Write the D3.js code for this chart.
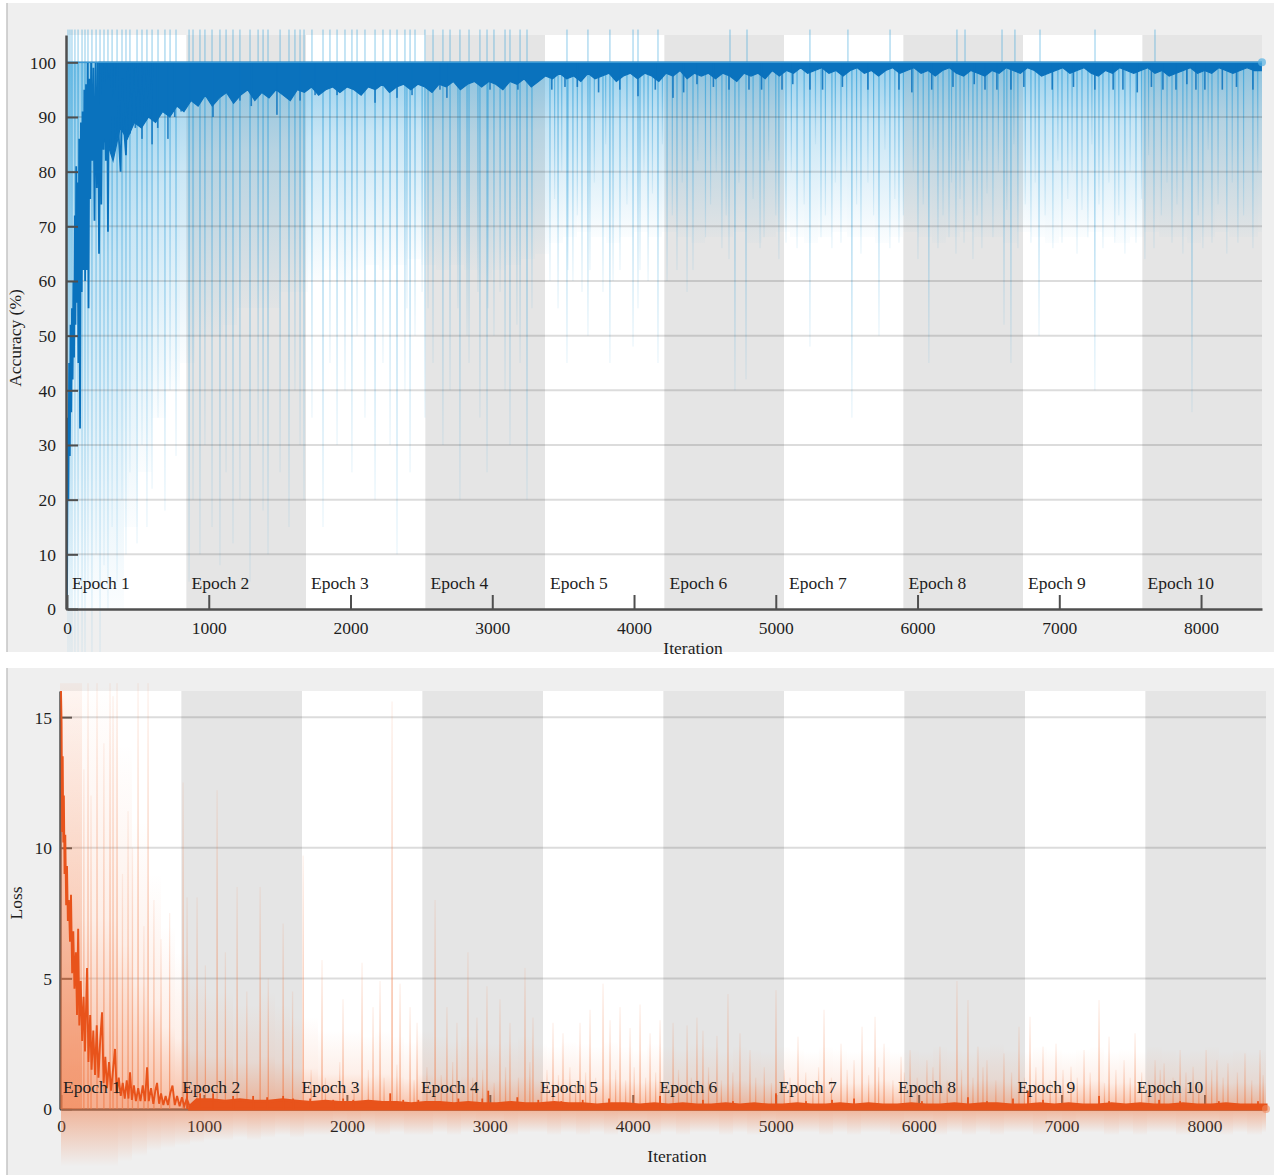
<!DOCTYPE html>
<html>
<head>
<meta charset="utf-8">
<title>Training progress</title>
<script src="https://cdnjs.cloudflare.com/ajax/libs/d3/7.8.5/d3.min.js"></script>
<style>
body { margin: 0; background: #fff; }
svg text { font-family: "Liberation Serif", "DejaVu Serif", serif; fill: #1e1e1e; }
</style>
</head>
<body>
<svg id="chart" width="1274" height="1175"></svg>
<script>
// ---- data ----
var epochNames = ["Epoch 1","Epoch 2","Epoch 3","Epoch 4","Epoch 5","Epoch 6","Epoch 7","Epoch 8","Epoch 9","Epoch 10"];
var itersPerEpoch = 843;
var lastIter = 8430;
var iterTicks = [0,1000,2000,3000,4000,5000,6000,7000,8000];
var accTicks = [0,10,20,30,40,50,60,70,80,90,100];
var lossTicks = [0,5,10,15];
var binStart = d3.range(0, 8401, 100);    // 85 bins of 100 iterations
var fineStart = d3.range(0, 8401, 50);    // 169 bins of 50 iterations

// accuracy: lower edge of the dense dark band, per 50 iterations
var accCoreLow = [
  null, null, null, null, 84, 86, 82, 88, 86, 89,
  88, 90, 89, 91, 90, 92, 91, 93, 92, 94,
  92, 93.5, 94.5, 92.5, 94, 95, 93, 94.5, 93.5, 95,
  94, 93, 95, 94.5, 95.5, 94, 95, 95.5, 94.5, 95.5,
  95, 94, 95.5, 95, 96, 94.5, 95.5, 96, 95, 96,
  95.5, 94.5, 96, 95.5, 96.5, 95, 96, 96.5, 95.5, 96.5,
  96, 95, 96.5, 96, 97, 95.5, 96.5, 97.5, 97, 98,
  97, 97.5, 96.5, 98, 97, 97.5, 98, 96.5, 97.5, 98,
  97, 98, 97.5, 96.5, 98, 97.5, 98.5, 97, 98, 97.5,
  98, 97, 98, 97.5, 96.5, 98, 97.5, 98, 97, 98.5,
  97.5, 98.5, 98, 99, 98, 98.5, 99, 98, 98.5, 97.5,
  98.5, 99, 98, 98.5, 97.5, 98.5, 99, 98, 98.5, 99,
  98, 98.5, 97.5, 98.5, 99, 98, 97.5, 98.5, 98, 97.5,
  98.5, 98, 99, 98.5, 98, 99, 98.5, 97.5, 98, 98.5,
  99, 98, 98.5, 99, 98, 97.5, 98.5, 98, 99, 98.5,
  98, 98.5, 99, 98, 98.5, 97.5, 98, 98.5, 99, 98,
  98.5, 98, 99, 98.5, 98, 98.5, 99, 98.5, 98.5];
// accuracy: where the pale blue haze fades out, per 100 iterations
var accFadeLow = [
  0, 0, 0, 0, 15, 25, 35, 40, 45, 50,
  50, 52, 55, 55, 55, 58, 58, 60, 62, 60,
  62, 63, 62, 63, 64, 63, 62, 63, 62, 60,
  62, 63, 64, 65, 67, 68, 69, 68, 67, 68,
  69, 68, 69, 68, 67, 68, 68, 69, 67, 68,
  69, 68, 67, 68, 69, 68, 68, 67, 68, 69,
  68, 67, 68, 69, 68, 68, 67, 69, 68, 67,
  68, 68, 69, 68, 67, 68, 69, 68, 68, 67,
  68, 69, 68, 68, 69];
// accuracy: the first iterations [iteration, %]
var accEarly = [[0,0],[5,35],[10,20],[15,45],[20,28],[25,52],[30,36],[35,55],[40,42],[45,60],[50,46],[55,72],
  [60,52],[65,81],[70,56],[75,78],[80,45],[86,86],[92,33],[98,89],[104,58],[110,91],[116,62],[122,95],[128,60],
  [134,96],[140,62],[146,100],[152,55],[158,97],[164,75],[170,100],[178,82],[186,99],[194,71],[202,100],[210,77],
  [218,100],[226,65],[234,98],[242,74],[250,100],[258,84],[266,99],[274,82],[282,100],[289,69],[296,98],[304,86],
  [314,100],[324,83],[334,99],[344,87],[354,100],[366,86],[378,80],[390,97],[402,88],[416,83],[430,99],[444,87],
  [458,100],[472,90],[486,99],[500,89],[515,100],[530,90],[545,99],[560,91],[575,100],[590,90],[605,100]];
// accuracy: darker dips below the band [iteration, %]
var accDips = [[335,86],[482,88],[529,86],[600,85],[640,88],[712,86],[760,90],[805,91],[868,93],[1030,90],
  [1220,93],[1300,92],[1481,90.4],[1644,93],[1750,94],[1905,94],[2173,92.6],[2328,93.5],[2434,94],[2631,95],
  [2680,93.5],[2984,95],[3181,95],[3420,95],[3513,95.5],[3600,95.5],[3750,94.5],[3900,95],[4028,93.8],
  [4150,95],[4275,93.5],[4350,94.5],[4444,96],[4560,95.5],[4670,95],[4811,95],[4900,95],[5044,95],[5120,96],
  [5241,95],[5330,95],[5470,95.5],[5650,95],[5869,95],[5960,94.5],[6100,95],[6250,95.5],[6400,96],[6476,95],
  [6560,95],[6659,95],[6750,95.5],[6950,95],[7100,95.5],[7251,95],[7380,95],[7449,95],[7550,94.5],[7650,95.5],
  [7731,95],[7823,95],[7900,96],[7964,95],[8027,95],[8150,95],[8250,95.5],[8366,95]];
// accuracy: pale single-iteration drops [iteration, %]
var accSpikes = [[7,-8],[21,-8],[35,-8],[56,-8],[78,-8],[106,-8],[127,-8],[148,5],[176,-8],[205,10],[233,-8],
  [261,8],[289,0],[318,15],[353,5],[388,20],[416,10],[444,25],[494,12],[529,30],[564,15],[600,22],[642,35],
  [691,18],[727,40],[769,28],[861,5],[889,20],[938,10],[973,30],[1023,15],[1079,8],[1122,25],[1171,12],
  [1220,20],[1291,5],[1348,30],[1383,18],[1418,10],[1503,25],[1566,15],[1608,40],[1644,30],[1672,20],
  [1728,35],[1806,15],[1855,45],[1905,30],[1961,40],[2010,25],[2046,50],[2102,35],[2173,20],[2229,45],
  [2279,30],[2328,10],[2384,40],[2398,55],[2420,25],[2455,50],[2505,58],[2525,35],[2547,55],[2582,45],
  [2652,30],[2702,40],[2758,55],[2772,20],[2822,50],[2836,45],[2899,58],[2913,35],[2963,25],[2970,55],
  [3012,50],[3055,58],[3090,40],[3125,30],[3174,52],[3196,45],[3245,20],[3280,55],[3407,60],[3440,75],
  [3464,55],[3490,80],[3527,45],[3534,62],[3569,60],[3600,72],[3633,58],[3675,50],[3689,62],[3720,78],
  [3781,58],[3800,85],[3830,45],[3852,60],[3901,62],[3950,74],[3993,48],[4028,55],[4042,62],[4070,80],
  [4099,60],[4130,76],[4169,45],[4200,85],[4233,60],[4270,72],[4303,62],[4340,78],[4374,58],[4416,62],
  [4450,82],[4504,68],[4540,74],[4580,80],[4620,66],[4650,72],[4670,64],[4712,40],[4740,78],[4790,42],
  [4840,75],[4889,66],[4917,68],[4950,82],[5000,72],[5022,64],[5072,67],[5110,80],[5150,66],[5200,74],
  [5241,48],[5280,85],[5319,68],[5350,72],[5396,66],[5420,78],[5460,67],[5500,80],[5537,35],[5570,74],
  [5601,65],[5650,78],[5690,72],[5728,50],[5770,84],[5805,66],[5840,75],[5869,67],[5900,72],[5970,80],
  [6003,64],[6040,74],[6080,45],[6110,84],[6144,66],[6180,72],[6222,68],[6240,78],[6271,65],[6300,75],
  [6328,67],[6360,82],[6391,64],[6420,72],[6454,66],[6490,76],[6532,68],[6570,80],[6610,52],[6630,73],
  [6659,45],[6680,85],[6708,66],[6760,74],[6800,67],[6830,78],[6857,50],[6900,72],[6955,66],[6990,82],
  [7019,67],[7060,75],[7090,80],[7125,65],[7160,73],[7202,68],[7230,85],[7251,40],[7280,74],[7308,66],
  [7350,78],[7392,67],[7420,72],[7463,65],[7500,80],[7541,67],[7580,75],[7604,64],[7630,83],[7668,66],
  [7720,72],[7760,78],[7795,67],[7830,74],[7872,65],[7900,80],[7936,36],[7980,72],[8013,66],[8050,84],
  [8077,67],[8120,74],[8182,65],[8220,78],[8260,67],[8300,72],[8366,66],[8400,80]];
// accuracy: iterations whose pale line runs above the top of the axes
var accAbove = [7,21,35,56,78,106,127,148,176,205,233,261,289,318,353,388,416,444,494,529,564,600,642,691,
  727,769,861,889,938,973,1023,1079,1122,1171,1220,1291,1348,1383,1418,1503,1566,1608,1644,1672,1728,1806,
  1855,1905,1961,2010,2046,2102,2173,2229,2279,2328,2384,2420,2455,2525,2582,2652,2702,2772,2836,2913,2963,
  3012,3090,3125,3196,3245,3527,3675,3830,3993,4028,4169,4677,4797,5241,5509,5806,6278,6335,6596,6687,6864,
  7252,7675];

// loss: top of the dense dark band, per 100 iterations
var lossCoreHigh = [
  null, null, null, null, null, null, null, null, null, 0.35,
  0.35, 0.3, 0.35, 0.3, 0.3, 0.35, 0.3, 0.25, 0.3, 0.25,
  0.25, 0.3, 0.25, 0.25, 0.2, 0.25, 0.25, 0.2, 0.25, 0.2,
  0.2, 0.25, 0.2, 0.2, 0.25, 0.2, 0.2, 0.15, 0.2, 0.2,
  0.15, 0.2, 0.15, 0.2, 0.15, 0.15, 0.2, 0.15, 0.2, 0.15,
  0.15, 0.2, 0.15, 0.15, 0.2, 0.15, 0.2, 0.15, 0.15, 0.2,
  0.15, 0.15, 0.2, 0.15, 0.2, 0.2, 0.15, 0.15, 0.2, 0.15,
  0.2, 0.15, 0.15, 0.2, 0.15, 0.2, 0.15, 0.15, 0.2, 0.15,
  0.15, 0.2, 0.15, 0.15, 0.15];
// loss: height of the pale orange haze, per 100 iterations
var lossFadeHigh = [
  16.3, 16.3, 16.3, 16.3, 14, 11, 9, 7, 6, 5,
  4.5, 4.5, 4, 4, 4.5, 4, 3.5, 3.5, 3, 3,
  3, 2.8, 3, 2.8, 2.6, 3, 2.8, 2.6, 2.8, 2.6,
  2.5, 2.6, 2.8, 2.5, 2.4, 2.6, 2.5, 2.4, 2.6, 2.4,
  2.3, 2.5, 2.4, 2.3, 2.5, 2.4, 2.2, 2.4, 2.3, 2.2,
  2.4, 2.3, 2.2, 2.4, 2.3, 2.2, 2.3, 2.4, 2.2, 2.3,
  2.2, 2.4, 2.3, 2.2, 2.4, 2.5, 2.3, 2.2, 2.4, 2.3,
  2.2, 2.3, 2.4, 2.2, 2.3, 2.2, 2.4, 2.3, 2.2, 2.3,
  2.4, 2.2, 2.3, 2.2, 2.3];
// loss: depth of the haze under the zero line, per 100 iterations
var lossBelow = [
  -2.2, -2.2, -2.2, -2.2, -2, -1.8, -1.6, -1.5, -1.4, -1.3,
  -1.2, -1.2, -1.1, -1.2, -1.1, -1, -1.1, -1, -1, -0.9,
  -1, -0.9, -1, -0.9, -1, -1, -0.9, -1, -0.9, -1,
  -0.9, -1, -0.9, -0.9, -1, -0.9, -1, -0.9, -1, -0.9,
  -0.9, -1, -0.9, -1, -0.9, -0.9, -1, -0.9, -1, -0.9,
  -1, -0.9, -0.9, -1, -0.9, -1, -0.9, -0.9, -1, -0.9,
  -0.9, -1, -0.9, -1, -0.9, -1, -0.9, -0.9, -1, -0.9,
  -1, -0.9, -0.9, -1, -0.9, -1, -0.9, -0.9, -1, -0.9,
  -0.9, -1, -0.9, -1, -0.9];
// loss: the first iterations [iteration, loss]
var lossEarly = [[0,16],[4,14.8],[8,10.6],[12,13.5],[16,10.2],[20,12],[25,9],[30,10.5],[36,7.8],[42,9.3],
  [48,7.2],[55,8],[63,6.4],[70,8.2],[78,5.2],[86,6.8],[94,4.6],[104,6],[112,3.6],[120,6.9],[128,3.2],
  [138,4.9],[148,2.6],[158,4.3],[168,2.2],[182,5.4],[192,1.8],[204,3.6],[214,1.5],[226,3],[238,1.3],
  [250,3.2],[262,1.2],[274,2.6],[287,3.7],[298,1],[310,2],[322,0.8],[336,1.8],[350,0.7],[364,1.5],
  [378,2.3],[390,0.6],[404,1.2],[418,0.5],[432,1],[446,0.4],[460,1.1],[472,0.4],[483,1.4],[496,0.35],
  [510,0.9],[524,0.3],[540,0.8],[556,0.3],[572,0.9],[588,0.3],[602,1.6],[614,0.3],[630,0.8],[646,0.2],
  [660,0.7],[672,1],[686,0.2],[700,0.6],[716,0.15],[732,0.5],[748,0.15],[764,0.6],[780,0.9],[796,0.15],
  [812,0.5],[830,0.1],[846,0.45],[862,0.1],[880,0.4],[900,0.1]];
// loss: darker bumps above the band [iteration, loss]
var lossBumps = [[882,0.8],[973,0.6],[1064,0.6],[1204,0.5],[1344,0.5],[1442,0.45],[1554,0.5],[1624,0.4],
  [1743,0.4],[1904,0.35],[1974,0.4],[2044,0.35],[2303,0.6],[2394,0.35],[2500,0.35],[2650,0.3],[2780,0.4],
  [2947,0.4],[2989,0.7],[3192,0.45],[3339,0.35],[3500,0.3],[3650,0.35],[3834,0.4],[4191,0.5],[4491,0.35],
  [4701,0.3],[5002,0.6],[5212,0.3],[5394,0.35],[5548,0.4],[6023,0.3],[6345,0.45],[6478,0.3],[6660,0.4],
  [6765,0.7],[6870,0.35],[7262,0.5],[7332,0.3],[7682,0.35],[7829,0.3],[8100,0.3],[8374,0.3]];
// loss: pale single-iteration peaks [iteration, loss]
var lossSpikes = [[0,16.3],[14,16.3],[28,16.3],[42,16.3],[56,16.3],[70,16.3],[84,16.3],[98,16.3],[112,16.3],
  [126,16.3],[140,16.3],[160,13],[189,16.3],[210,12],[252,16.3],[300,14],[343,16.3],[364,15.8],[392,16.3],
  [430,9],[469,11.4],[500,10],[539,16.3],[580,7],[609,16.3],[650,8],[700,6.5],[760,7.5],[854,12.5],[882,8.1],
  [952,8.1],[1010,5.5],[1092,12.2],[1150,6],[1232,8.5],[1300,4.5],[1393,8.5],[1450,5],[1554,7.1],[1620,4.5],
  [1694,9.7],[1750,1.5],[1826,5.7],[1850,1.2],[1950,1.8],[1973,4.2],[2050,1],[2106,5.6],[2150,1.5],
  [2183,3.9],[2232,4.9],[2260,1.2],[2316,15.6],[2350,1.7],[2372,4.8],[2442,3.9],[2470,1.1],[2491,3.3],
  [2560,1.6],[2617,8],[2660,1.3],[2700,3.9],[2740,1.8],[2770,3.3],[2847,6],[2880,1.2],[2910,3.5],[2950,1.5],
  [2980,4.7],[3030,1],[3071,4.2],[3110,1.6],[3141,3.3],[3200,1.2],[3246,5.4],[3280,1.8],[3302,3.5],
  [3360,1.1],[3400,1.5],[3442,3.3],[3480,1.3],[3512,2.9],[3560,1.6],[3600,1],[3631,3.3],[3670,1.4],
  [3701,3.8],[3740,1.2],[3792,4.8],[3841,3.4],[3880,1.5],[3911,3.9],[3950,1.1],[3981,3.1],[4010,1.6],
  [4051,4],[4090,1.2],[4121,2.9],[4160,1.4],[4191,3.4],[4230,1],[4282,3.3],[4320,1.5],[4380,3.2],[4410,1.2],
  [4449,3.5],[4491,3],[4530,1.6],[4589,2.8],[4620,1.1],[4666,4.4],[4700,1.4],[4750,2.9],[4820,2.26],
  [4860,1.2],[4920,1.6],[4970,1],[5002,4.55],[5060,1.5],[5100,1.2],[5156,2.77],[5210,1.4],[5260,1],
  [5300,1.6],[5338,3.8],[5390,1.2],[5457,2.5],[5500,1.5],[5548,1.87],[5604,3.15],[5650,1.3],[5695,3.53],
  [5720,1.6],[5758,2.5],[5820,1.1],[5877,2],[5900,1.4],[5940,2.26],[5990,1.2],[6058,1.87],[6100,1.6],
  [6149,2.39],[6200,1.1],[6268,4.9],[6300,1.5],[6345,4.17],[6380,1.2],[6415,2.39],[6450,1.6],[6478,1.87],
  [6540,1.1],[6597,2.13],[6650,1.4],[6702,3.15],[6740,1.2],[6779,3.53],[6820,1.6],[6870,2.39],[6920,1.1],
  [6961,2.5],[7010,1.5],[7066,1.62],[7110,1.2],[7157,2.26],[7200,1.4],[7262,4.17],[7300,1],[7332,2.77],
  [7380,1.5],[7437,1.87],[7480,1.2],[7514,2.9],[7560,1.4],[7610,1.1],[7654,1.87],[7690,1.5],[7717,1.75],
  [7780,1.2],[7829,2.26],[7870,1.4],[7920,1.62],[7960,1.1],[8011,2.26],[8050,1.5],[8087,1.87],[8130,1.2],
  [8164,1.75],[8230,1.4],[8283,2.13],[8330,1.1],[8388,2.26],[8410,1.3]];

// ---- drawing ----
var blue = "#0a72bd", paleBlue = "#2f9fd9", orange = "#e8531b", paleOrange = "#f07a45";
var svg = d3.select("#chart");
var defs = svg.append("defs");
var fmt = d3.format("d");

function addGrad(id, color, stops) {
  var g = defs.append("linearGradient").attr("id", id).attr("x1", 0).attr("y1", 0).attr("x2", 0).attr("y2", 1);
  stops.forEach(function(s) {
    g.append("stop").attr("offset", s[0]).attr("stop-color", color).attr("stop-opacity", s[1]);
  });
}
addGrad("accFade", paleBlue, [[0, 0.5], [0.35, 0.26], [1, 0.02]]);
addGrad("accSpike", paleBlue, [[0, 0.75], [1, 0.1]]);
addGrad("lossFade", paleOrange, [[0, 0], [0.55, 0.12], [1, 0.5]]);
addGrad("lossUnder", paleOrange, [[0, 0.5], [1, 0]]);
addGrad("lossSpike", paleOrange, [[0, 0.1], [1, 0.7]]);

function binEnd(i) { return Math.min(binStart[i] + 100, lastIter); }

function frame(y0, h, clipId) {
  svg.append("rect").attr("x", 7).attr("y", y0).attr("width", 1267).attr("height", h).attr("fill", "#efefef");
  svg.append("line").attr("x1", 7).attr("x2", 7).attr("y1", y0).attr("y2", y0 + h)
    .attr("stroke", "#c4c4c4").attr("stroke-width", 1.5);
  defs.append("clipPath").attr("id", clipId).append("rect")
    .attr("x", 8).attr("y", y0).attr("width", 1266).attr("height", h);
}

function bands(g, x, y, yTop) {
  g.selectAll(null).data(epochNames).enter().append("rect")
    .attr("x", function(d, i) { return x(i * itersPerEpoch); })
    .attr("width", function(d, i) { return x((i + 1) * itersPerEpoch) - x(i * itersPerEpoch); })
    .attr("y", y(yTop)).attr("height", y(0) - y(yTop))
    .attr("fill", function(d, i) { return i % 2 ? "#e5e5e5" : "#ffffff"; });
}

function grid(g, x, y, ticks) {
  g.selectAll(null).data(ticks.slice(1)).enter().append("line")
    .attr("x1", x(0)).attr("x2", x(lastIter))
    .attr("y1", function(d) { return y(d); }).attr("y2", function(d) { return y(d); })
    .attr("stroke", "rgba(40,40,40,0.16)").attr("stroke-width", 2);
}

function styleAxis(a) {
  a.attr("font-family", null).attr("font-size", null);
  a.select(".domain").attr("stroke", "#4f4f4f").attr("stroke-width", 2.5);
  a.selectAll(".tick line").attr("stroke", "#4f4f4f").attr("stroke-width", 2);
  a.selectAll(".tick text").style("font-size", "17.5px").attr("fill", "#1e1e1e");
}

function axes(g, x, y, ticks, padY, padX) {
  var ya = g.append("g").attr("transform", "translate(" + (x(0) - 1) + ",0)")
    .call(d3.axisLeft(y).tickValues(ticks).tickFormat(fmt).tickSizeInner(-12).tickSizeOuter(0).tickPadding(padY));
  styleAxis(ya);
  ya.selectAll(".tick text").attr("dy", "0.34em");
  var xa = g.append("g").attr("transform", "translate(0," + y(0) + ")")
    .call(d3.axisBottom(x).tickValues(iterTicks).tickFormat(fmt).tickSizeInner(-14).tickSizeOuter(0).tickPadding(padX));
  styleAxis(xa);
}

function epochLabels(g, x, yPix, shift) {
  g.selectAll(null).data(epochNames).enter().append("text")
    .attr("x", function(d, i) { return x(i * itersPerEpoch) + shift(i); })
    .attr("y", yPix).style("font-size", "17.5px").text(function(d) { return d; });
}

// ===== accuracy panel =====
var xA = d3.scaleLinear().domain([0, lastIter]).range([67, 1262]);
var yA = d3.scaleLinear().domain([0, 105]).range([609, 35]);
frame(3, 649, "clipA");
var gA = svg.append("g").attr("clip-path", "url(#clipA)");
bands(gA, xA, yA, 105);

gA.selectAll(null).data(accFadeLow).enter().append("rect")
  .attr("x", function(d, i) { return xA(binStart[i]); })
  .attr("width", function(d, i) { return xA(binEnd(i)) - xA(binStart[i]); })
  .attr("y", yA(100)).attr("height", function(d) { return yA(d) - yA(100); })
  .attr("fill", "url(#accFade)").attr("shape-rendering", "crispEdges");

gA.selectAll(null).data(accAbove).enter().append("rect")
  .attr("x", function(d) { return xA(d) - 0.6; }).attr("width", 1.2)
  .attr("y", yA(106)).attr("height", yA(100) - yA(106))
  .attr("fill", paleBlue).attr("opacity", 0.45);

gA.selectAll(null).data(accSpikes).enter().append("rect")
  .attr("x", function(d) { return xA(d[0]) - 0.6; }).attr("width", 1.2)
  .attr("y", yA(100)).attr("height", function(d) { return yA(d[1]) - yA(100); })
  .attr("fill", "url(#accSpike)");

grid(gA, xA, yA, accTicks);

var coreA = fineStart.map(function(b, i) { return [Math.min(b + 25, lastIter), accCoreLow[i]]; });
gA.append("path").datum(coreA)
  .attr("d", d3.area().defined(function(d) { return d[1] != null; })
    .x(function(d) { return xA(d[0]); }).y0(yA(100)).y1(function(d) { return yA(d[1]); }))
  .attr("fill", blue).attr("stroke", blue).attr("stroke-width", 1.2);

gA.selectAll(null).data(accDips).enter().append("rect")
  .attr("x", function(d) { return xA(d[0]) - 0.8; }).attr("width", 1.6)
  .attr("y", yA(100)).attr("height", function(d) { return yA(d[1]) - yA(100); })
  .attr("fill", blue).attr("opacity", 0.85);

gA.append("path").datum(accEarly)
  .attr("d", d3.line().x(function(d) { return xA(d[0]); }).y(function(d) { return yA(d[1]); }))
  .attr("fill", "none").attr("stroke", blue).attr("stroke-width", 1.8);

gA.append("line").attr("x1", xA(0)).attr("x2", xA(lastIter)).attr("y1", yA(100)).attr("y2", yA(100))
  .attr("stroke", "#3a9ad6").attr("stroke-width", 1.5);
gA.append("circle").attr("cx", xA(lastIter)).attr("cy", yA(100)).attr("r", 4)
  .attr("fill", "#59b2e2").attr("opacity", 0.7);

axes(svg, xA, yA, accTicks, 10, 12.6);
epochLabels(svg, xA, 589, function(i) { return 5; });
svg.append("text").attr("x", 693).attr("y", 654).attr("text-anchor", "middle")
  .style("font-size", "17.5px").text("Iteration");
svg.append("text").attr("transform", "translate(21,338) rotate(-90)").attr("text-anchor", "middle")
  .style("font-size", "17.5px").text("Accuracy (%)");

// ===== loss panel =====
var xL = d3.scaleLinear().domain([0, lastIter]).range([61, 1266]);
var yL = d3.scaleLinear().domain([0, 16]).range([1109, 691]);
frame(668, 507, "clipL");
var gL = svg.append("g").attr("clip-path", "url(#clipL)");
bands(gL, xL, yL, 16);
grid(gL, xL, yL, lossTicks);
axes(svg, xL, yL, lossTicks, 8, 10.6);
var gL2 = svg.append("g").attr("clip-path", "url(#clipL)");

gL2.selectAll(null).data(lossFadeHigh).enter().append("rect")
  .attr("x", function(d, i) { return xL(binStart[i]); })
  .attr("width", function(d, i) { return xL(binEnd(i)) - xL(binStart[i]); })
  .attr("y", function(d) { return yL(d); }).attr("height", function(d) { return yL(0) - yL(d); })
  .attr("fill", "url(#lossFade)").attr("shape-rendering", "crispEdges");

gL2.selectAll(null).data(lossBelow).enter().append("rect")
  .attr("x", function(d, i) { return xL(binStart[i]); })
  .attr("width", function(d, i) { return xL(binEnd(i)) - xL(binStart[i]); })
  .attr("y", yL(0)).attr("height", function(d) { return yL(d) - yL(0); })
  .attr("fill", "url(#lossUnder)").attr("shape-rendering", "crispEdges");

gL2.selectAll(null).data(lossSpikes).enter().append("rect")
  .attr("x", function(d) { return xL(d[0]) - 0.65; }).attr("width", 1.3)
  .attr("y", function(d) { return yL(d[1]); }).attr("height", function(d) { return yL(0) - yL(d[1]); })
  .attr("fill", "url(#lossSpike)");

gL2.append("path").datum(lossEarly)
  .attr("d", d3.area().x(function(d) { return xL(d[0]); }).y0(yL(0)).y1(function(d) { return yL(d[1]); }))
  .attr("fill", paleOrange).attr("opacity", 0.2);

var coreL = binStart.map(function(b, i) { return [Math.min(b + 50, lastIter), lossCoreHigh[i]]; });
coreL[8] = [900, 0.1];
gL2.append("path").datum(coreL)
  .attr("d", d3.area().defined(function(d) { return d[1] != null; })
    .x(function(d) { return xL(d[0]); }).y0(yL(0)).y1(function(d) { return yL(d[1]); }))
  .attr("fill", orange).attr("stroke", orange).attr("stroke-width", 3);

gL2.selectAll(null).data(lossBumps).enter().append("rect")
  .attr("x", function(d) { return xL(d[0]) - 0.9; }).attr("width", 1.8)
  .attr("y", function(d) { return yL(d[1]); }).attr("height", function(d) { return yL(0) - yL(d[1]); })
  .attr("fill", orange);

gL2.append("path").datum(lossEarly)
  .attr("d", d3.line().x(function(d) { return xL(d[0]); }).y(function(d) { return yL(d[1]); }))
  .attr("fill", "none").attr("stroke", orange).attr("stroke-width", 1.9);

gL2.append("circle").attr("cx", xL(lastIter)).attr("cy", yL(0)).attr("r", 4)
  .attr("fill", "#f08a5d").attr("opacity", 0.6);

epochLabels(svg, xL, 1093, function(i) { return 2 - i * 1.2; });
svg.append("text").attr("x", 677).attr("y", 1162).attr("text-anchor", "middle")
  .style("font-size", "17.5px").text("Iteration");
svg.append("text").attr("transform", "translate(22,903) rotate(-90)").attr("text-anchor", "middle")
  .style("font-size", "17.5px").text("Loss");
</script>
</body>
</html>
